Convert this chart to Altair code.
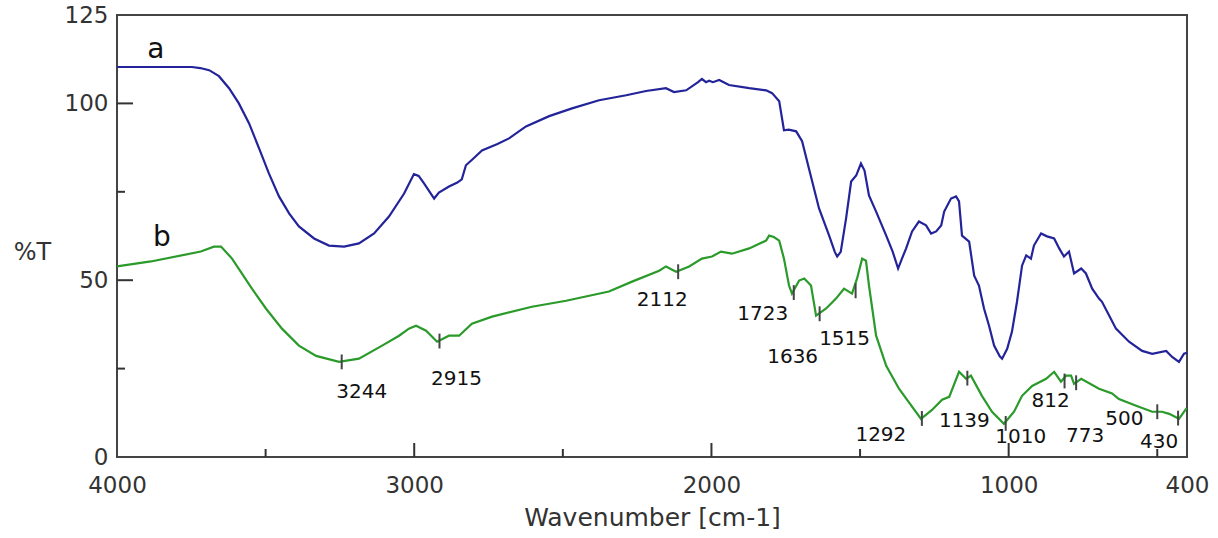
import altair as alt
import pandas as pd

# ---------------- data ----------------
A_WN = [4000, 3900, 3800, 3748, 3720, 3690, 3657, 3623, 3590, 3556, 3522, 3489, 3455, 3421, 3388,
        3337, 3287, 3236, 3186, 3135, 3085, 3034, 3001, 2985, 2967, 2933, 2917, 2883, 2855, 2840,
        2826, 2800, 2772, 2720, 2681, 2624, 2546, 2469, 2378, 2287, 2220, 2153, 2126, 2085, 2045,
        2032, 2018, 2008, 1995, 1974, 1941, 1873, 1816, 1796, 1772, 1756, 1740, 1715, 1695, 1672,
        1638, 1604, 1585, 1577, 1565, 1547, 1530, 1513, 1497, 1485, 1470, 1446, 1412, 1390, 1372,
        1359, 1345, 1325, 1302, 1278, 1261, 1244, 1227, 1217, 1194, 1177, 1167, 1157, 1133, 1116,
        1100, 1083, 1066, 1049, 1030, 1022, 1005, 989, 972, 955, 941, 925, 915, 891, 871,
        847, 830, 814, 797, 780, 756, 740, 719, 696, 686, 662, 639, 595, 551, 517,
        470, 450, 427, 410, 400]
A_T = [110.3, 110.3, 110.3, 110.3, 110.0, 109.4, 107.7, 104.3, 100.0, 94.4, 87.3, 80.2, 73.7, 68.9, 65.2,
       61.8, 59.8, 59.5, 60.4, 63.2, 68.0, 74.5, 80.0, 79.5, 77.4, 73.1, 74.8, 76.5, 77.6, 78.5,
       82.5, 84.5, 86.7, 88.5, 90.1, 93.5, 96.4, 98.6, 100.9, 102.3, 103.5, 104.3, 103.2, 103.7, 106.0,
       106.9, 106.0, 106.4, 106.0, 106.6, 105.2, 104.3, 103.7, 102.9, 100.6, 92.4, 92.6, 92.1, 89.3, 81.6,
       70.3, 62.6, 58.0, 56.7, 58.0, 67.5, 77.9, 79.6, 83.0, 81.0, 74.0, 69.4, 62.6, 58.0, 53.3,
       56.1, 59.0, 63.8, 66.6, 65.5, 63.2, 63.8, 65.5, 69.4, 73.1, 73.7, 72.3, 62.6, 60.9, 51.3,
       48.5, 42.0, 37.1, 31.5, 28.5, 27.8, 30.6, 35.4, 43.9, 54.1, 57.0, 56.1, 59.8, 63.2, 62.4,
       61.8, 59.0, 56.7, 58.1, 51.9, 53.3, 51.9, 47.6, 44.8, 43.9, 40.0, 36.3, 32.6, 30.0, 29.2,
       30.0, 28.3, 26.9, 29.2, 29.5]

B_WN = [4000, 3886, 3718, 3674, 3650, 3613, 3546, 3499, 3445, 3388, 3330, 3253, 3186, 3108, 3051,
        3018, 2994, 2960, 2923, 2883, 2849, 2806, 2738, 2604, 2489, 2345, 2267, 2176, 2153, 2119,
        2075, 2032, 1998, 1968, 1931, 1873, 1816, 1806, 1790, 1772, 1756, 1739, 1729, 1705, 1688,
        1665, 1648, 1614, 1581, 1554, 1527, 1510, 1493, 1480, 1470, 1446, 1412, 1369, 1295, 1258,
        1224, 1200, 1167, 1143, 1127, 1090, 1056, 1016, 982, 955, 921, 874, 847, 824, 807,
        790, 780, 756, 696, 652, 629, 571, 517, 484, 460, 427, 403, 400]
B_T = [53.9, 55.3, 58.1, 59.5, 59.5, 56.1, 47.6, 42.0, 36.3, 31.5, 28.6, 26.9, 27.8, 31.5, 34.3,
       36.3, 37.1, 35.7, 32.6, 34.3, 34.3, 37.7, 39.7, 42.5, 44.2, 46.8, 49.6, 52.7, 53.9, 52.4,
       53.9, 56.1, 56.7, 58.1, 57.5, 59.0, 61.2, 62.6, 62.2, 61.2, 56.1, 48.5, 46.2, 49.9, 50.5,
       48.5, 40.0, 42.0, 44.8, 47.6, 46.2, 50.5, 56.1, 55.5, 48.5, 34.3, 25.8, 19.3, 10.8, 13.3,
       16.2, 17.0, 24.1, 22.1, 23.0, 17.3, 12.8, 9.4, 12.8, 17.3, 20.1, 22.1, 24.1, 21.3, 23.0,
       23.0, 20.7, 22.1, 19.3, 18.0, 16.4, 14.5, 12.8, 12.8, 12.2, 10.8, 13.6, 13.5]

PEAK_LABELS = ["3244", "2915", "2112", "1723", "1636", "1515", "1292", "1139", "1010", "812", "773", "500", "430"]
PEAK_WN = [3244, 2915, 2112, 1723, 1636, 1515, 1292, 1139, 1010, 812, 773, 500, 430]
PEAK_T = [26.9, 32.8, 52.4, 46.5, 40.5, 47.0, 10.9, 22.3, 9.5, 21.5, 21.0, 12.8, 11.0]
# label offsets from the tick (pixels)
LABEL_DX = [20, 17, -16, -31, -27, -11, -41, -3, 15, -14, 9, -33, -19]
LABEL_DY = [30, 38, 28, 21, 43, 48, 17, 43, 14, 20, 53, 7, 24]

SERIES_NAMES = ["a", "b"]
SERIES_LABEL_WN = [3869, 3849]
SERIES_LABEL_T = [115.0, 61.8]

X_LABEL_VALUES = [4000, 3000, 2000, 1000, 400]
X_MAJOR = [3000, 2000, 1000]
X_MINOR = [3500, 2500, 1500, 500]
Y_LABEL_VALUES = [0, 50, 100, 125]
Y_MAJOR = [50, 100]
Y_MINOR = [25, 75]

# ---------------- layout ----------------
W, H = 1070, 442
BLUE = "#23239a"
GREEN = "#2a9a2a"
FONT = "DejaVu Sans"
AX = "#333333"

df = pd.concat([
    pd.DataFrame({"wn": A_WN, "T": A_T, "s": "a"}),
    pd.DataFrame({"wn": B_WN, "T": B_T, "s": "b"}),
])

xs = alt.Scale(domain=[400, 4000], reverse=True, nice=False, zero=False)
ys = alt.Scale(domain=[0, 125], nice=False, zero=False)

x_axis = alt.Axis(values=X_LABEL_VALUES, format="d", ticks=False, domain=False, grid=False,
                  labelFont=FONT, labelFontSize=23, labelColor=AX, labelPadding=17,
                  labelFlush=False, labelOverlap=False, labelBound=False,
                  title="Wavenumber [cm-1]", titleFont=FONT, titleFontSize=25,
                  titleFontWeight="normal", titleColor=AX, titlePadding=8)
y_axis = alt.Axis(values=Y_LABEL_VALUES, format="d", ticks=False, domain=False, grid=False,
                  labelFont=FONT, labelFontSize=23, labelColor=AX, labelPadding=9,
                  labelBaseline="middle", labelFlush=False, labelOverlap=False,
                  title="%T", titleFont=FONT, titleFontSize=24, titleFontWeight="normal",
                  titleColor=AX, titleAngle=0, titleX=-85, titleY=237,
                  titleAlign="center", titleBaseline="middle")

lines = alt.Chart(df).mark_line(strokeWidth=2.2, interpolate="linear").encode(
    x=alt.X("wn:Q", scale=xs, axis=x_axis),
    y=alt.Y("T:Q", scale=ys, axis=y_axis),
    color=alt.Color("s:N", scale=alt.Scale(domain=SERIES_NAMES, range=[BLUE, GREEN]), legend=None),
    detail="s:N",
)

xmaj = alt.Chart(pd.DataFrame({"wn": X_MAJOR})).mark_rule(color=AX, strokeWidth=2).encode(
    x=alt.X("wn:Q", scale=xs), y=alt.value(H), y2=alt.value(H - 14))
xmin = alt.Chart(pd.DataFrame({"wn": X_MINOR})).mark_rule(color=AX, strokeWidth=2).encode(
    x=alt.X("wn:Q", scale=xs), y=alt.value(H), y2=alt.value(H - 8))
ymaj = alt.Chart(pd.DataFrame({"T": Y_MAJOR})).mark_rule(color=AX, strokeWidth=2).encode(
    y=alt.Y("T:Q", scale=ys), x=alt.value(0), x2=alt.value(16))
ymin = alt.Chart(pd.DataFrame({"T": Y_MINOR})).mark_rule(color=AX, strokeWidth=2).encode(
    y=alt.Y("T:Q", scale=ys), x=alt.value(0), x2=alt.value(8))

peaks = pd.DataFrame({"wn": PEAK_WN, "T": PEAK_T, "lab": PEAK_LABELS})
peaks["lo"] = peaks["T"] - 2.1
peaks["hi"] = peaks["T"] + 2.1
peak_ticks = alt.Chart(peaks).mark_rule(color="#444444", strokeWidth=2).encode(
    x=alt.X("wn:Q", scale=xs), y=alt.Y("lo:Q", scale=ys), y2="hi:Q")

layers = [lines, xmaj, xmin, ymaj, ymin, peak_ticks]
for i in range(len(PEAK_LABELS)):
    row = peaks.iloc[[i]]
    layers.append(
        alt.Chart(row).mark_text(font=FONT, fontSize=20, color="#111111", align="center",
                                 baseline="middle", dx=LABEL_DX[i], dy=LABEL_DY[i]).encode(
            x=alt.X("wn:Q", scale=xs), y=alt.Y("T:Q", scale=ys), text="lab:N"))

sl = pd.DataFrame({"wn": SERIES_LABEL_WN, "T": SERIES_LABEL_T, "s": SERIES_NAMES})
layers.append(alt.Chart(sl).mark_text(font=FONT, fontSize=28, color="#111111", align="center",
                                      baseline="middle").encode(
    x=alt.X("wn:Q", scale=xs), y=alt.Y("T:Q", scale=ys), text="s:N"))

chart = alt.layer(*layers).properties(
    width=W, height=H,
    autosize=alt.AutoSizeParams(type="none"),
    padding={"left": 117, "top": 15, "right": 31, "bottom": 81},
    background="white",
).configure_view(stroke="#444444", strokeWidth=2)

chart.save("out.html", embed_options={"renderer": "svg", "actions": False})
